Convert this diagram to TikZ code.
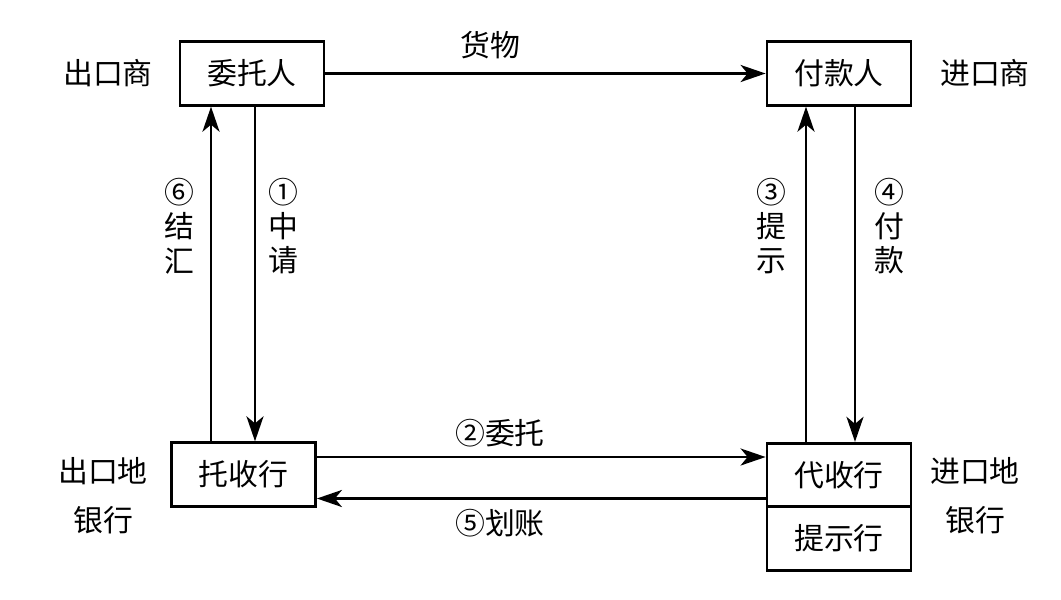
\documentclass[tikz,border=0pt]{standalone}
\usepackage{fontspec}
\setmainfont{Noto Sans CJK SC}
\usepackage{tikz}
\usetikzlibrary{arrows.meta, positioning}

\begin{document}
\begin{tikzpicture}[x=0.02cm, y=-0.02cm,
    box/.style={rectangle, draw, line width=1.6pt, minimum width=2.88cm, minimum height=1.27cm, align=center, inner sep=0pt},
    arrow/.style={-{Stealth[length=0.5cm,width=0.34cm,inset=0.14cm]}, line width=1.6pt},
    lbl/.style={align=center, inner sep=0pt}
]
\useasboundingbox (0,0) rectangle (1061,599);
\fontsize{17}{19.5}\selectfont

\node[box] (wtr) at (252,73.5) {委托人};
\node[box] (fkr) at (839,73.5) {付款人};
\node[box] (tsh) at (243.5,474.5) {托收行};
\node[box] (dsh) at (839,475) {代收行};
\node[box, below=-1.6pt of dsh.south, anchor=north] (tsx) {提示行};

% side labels
\node[lbl] (exp) at (108,73.5) {出口商};
\node[lbl] (imp) at (985,73.5) {进口商};
\node[lbl] (expbank) at (103,496) {出口地\\[0.3cm]银行};
\node[lbl] (impbank) at (975,496) {进口地\\[0.3cm]银行};

% goods
\draw[arrow] (wtr) -- (fkr);
\node[lbl] (goods) at (490,45) {货物};

% left side
\draw[arrow] ([xshift=-0.65cm]tsh.north) -- ([xshift=-0.65cm]tsh.north |- wtr.south);
\draw[arrow] ([xshift=0.06cm]wtr.south) -- ([xshift=0.06cm]wtr.south |- tsh.north);
\node[lbl] (step6) at (179,226) {⑥\\结\\汇};
\node[lbl] (step1) at (283,226) {①\\中\\请};

% right side
\draw[arrow] ([xshift=-0.66cm]dsh.north) -- ([xshift=-0.66cm]dsh.north |- fkr.south);
\draw[arrow] ([xshift=0.32cm]fkr.south) -- ([xshift=0.32cm]fkr.south |- dsh.north);
\node[lbl] (step3) at (771,226) {③\\提\\示};
\node[lbl] (step4) at (889,226) {④\\付\\款};

% bottom
\draw[arrow] ([yshift=0.35cm]tsh.east) -- ([yshift=0.35cm]tsh.east -| dsh.west);
\draw[arrow] ([yshift=-0.47cm]dsh.west) -- ([yshift=-0.47cm]dsh.west -| tsh.east);
\node[lbl] (step2) at (500,433) {②委托};
\node[lbl] (step5) at (500,523) {⑤划账};

\end{tikzpicture}
\end{document}
